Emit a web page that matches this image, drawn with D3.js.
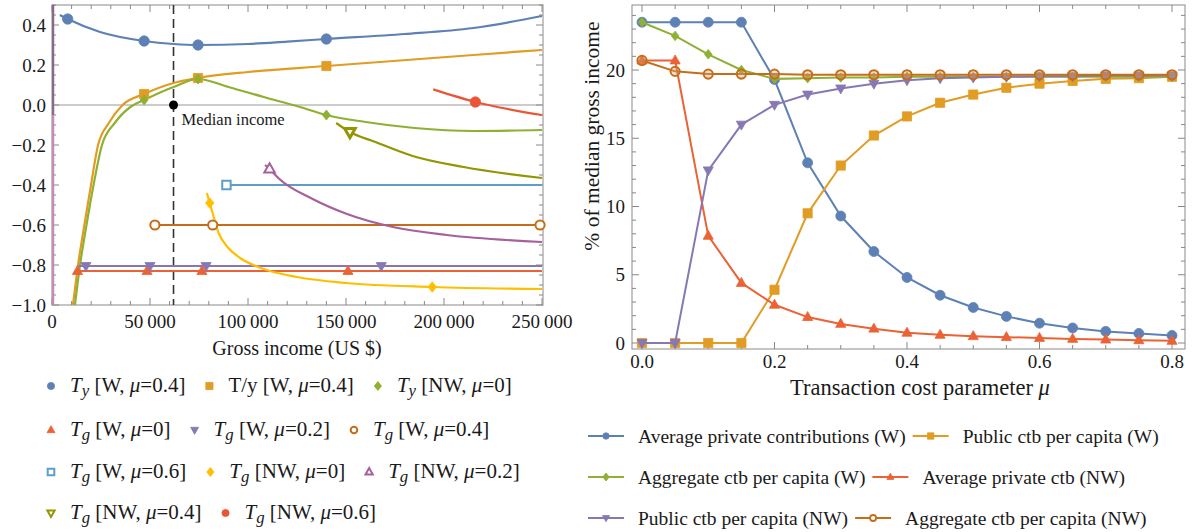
<!DOCTYPE html>
<html><head><meta charset="utf-8">
<script src="https://cdn.jsdelivr.net/npm/d3@7"></script>
<style>
body{margin:0;background:#fff}
text{font-family:"Liberation Serif","Times New Roman",serif;fill:#1a1a1a}
</style>
</head><body>
<svg id="c" width="1195" height="532"></svg>
<script>
// ---------- LEFT CHART DATA ----------
const incomeTicks = [0, 50000, 100000, 150000, 200000, 250000];
const valueTicks = [-1.0, -0.8, -0.6, -0.4, -0.2, 0.0, 0.2, 0.4];
const medianIncome = 62000;

const tyW = [[4000,0.45],[8000,0.43],[24500,0.365],[47000,0.32],[62000,0.305],[74500,0.30],[100000,0.305],[120000,0.317],[140000,0.33],[180000,0.355],[215000,0.385],[250000,0.445]];
const tyWMarks = [[8000,0.43],[47000,0.32],[74500,0.30],[140000,0.33]];

const tyRatioW = [[10700,-1.0],[13300,-0.8],[16500,-0.6],[19900,-0.4],[23500,-0.2],[29000,-0.09],[36000,0.0],[47000,0.055],[62000,0.11],[74500,0.135],[100000,0.165],[140000,0.195],[215000,0.25],[250000,0.275]];
const tyRatioWMarks = [[47000,0.055],[74500,0.135],[140000,0.195]];

const tyNW = [[11700,-1.0],[14300,-0.8],[17600,-0.6],[21200,-0.4],[25500,-0.2],[32000,-0.09],[40000,-0.01],[47000,0.025],[62000,0.09],[74500,0.13],[90000,0.09],[108000,0.04],[126500,-0.01],[140000,-0.05],[160000,-0.085],[185000,-0.115],[215000,-0.13],[250000,-0.125]];
const tyNWMarks = [[47000,0.025],[74500,0.13],[140000,-0.05]];

const tgW0 = [[13000,-0.83],[250000,-0.83]];
const tgW0Marks = [[13000,-0.83],[48500,-0.83],[76500,-0.83],[151000,-0.83]];

const tgW02 = [[13500,-0.805],[250000,-0.805]];
const tgW02Marks = [[17300,-0.805],[50000,-0.805],[78600,-0.805],[168000,-0.805]];

const tgW04 = [[52500,-0.6],[250000,-0.6]];
const tgW04Marks = [[52500,-0.6],[82000,-0.6],[249000,-0.6]];

const tgW06 = [[89000,-0.4],[250000,-0.4]];
const tgW06Marks = [[89000,-0.4]];

const tgNW0 = [[79000,-0.44],[80500,-0.49],[85000,-0.64],[90000,-0.715],[96000,-0.765],[108000,-0.82],[125000,-0.86],[150000,-0.89],[194000,-0.91],[250000,-0.92]];
const tgNW0Marks = [[80500,-0.49],[194000,-0.91]];

const tgNW02 = [[108700,-0.30],[111000,-0.32],[116000,-0.37],[133000,-0.47],[150500,-0.545],[174000,-0.61],[201500,-0.65],[250000,-0.685]];
const tgNW02Marks = [[111000,-0.32]];

const tgNW04 = [[145000,-0.09],[152000,-0.135],[165000,-0.185],[184000,-0.255],[210000,-0.31],[250000,-0.365]];
const tgNW04Marks = [[152000,-0.135]];

const tgNW06 = [[194500,0.078],[216000,0.015],[250000,-0.05]];
const tgNW06Marks = [[216000,0.015]];

const leftLabels = [
  {sym:"Ty", grp:"W", mu:"0.4"}, {sym:"T/y", grp:"W", mu:"0.4"}, {sym:"Ty", grp:"NW", mu:"0"},
  {sym:"Tg", grp:"W", mu:"0"}, {sym:"Tg", grp:"W", mu:"0.2"}, {sym:"Tg", grp:"W", mu:"0.4"},
  {sym:"Tg", grp:"W", mu:"0.6"}, {sym:"Tg", grp:"NW", mu:"0"}, {sym:"Tg", grp:"NW", mu:"0.2"},
  {sym:"Tg", grp:"NW", mu:"0.4"}, {sym:"Tg", grp:"NW", mu:"0.6"}
];

// ---------- RIGHT CHART DATA ----------
const muValues = [0,0.05,0.1,0.15,0.2,0.25,0.3,0.35,0.4,0.45,0.5,0.55,0.6,0.65,0.7,0.75,0.8];
const muTicks = [0.0,0.2,0.4,0.6,0.8];
const pctTicks = [0,5,10,15,20];
const avgPrivW   = [23.5,23.5,23.5,23.5,19.3,13.2,9.3,6.7,4.8,3.5,2.6,1.95,1.45,1.1,0.85,0.7,0.55];
const publicW    = [0,0,0,0,3.9,9.5,13.0,15.2,16.6,17.6,18.2,18.7,19.0,19.2,19.35,19.4,19.5];
const aggW       = [23.5,22.5,21.15,20.0,19.35,19.4,19.45,19.45,19.5,19.5,19.5,19.5,19.5,19.5,19.5,19.5,19.5];
const avgPrivNW  = [20.7,20.7,7.85,4.4,2.8,1.9,1.4,1.05,0.75,0.6,0.5,0.43,0.37,0.3,0.25,0.2,0.16];
const publicNW   = [0,0,12.65,16.0,17.45,18.2,18.65,19.0,19.25,19.4,19.45,19.5,19.55,19.55,19.6,19.6,19.6];
const aggNW      = [20.7,19.9,19.7,19.7,19.7,19.65,19.65,19.65,19.65,19.65,19.65,19.65,19.65,19.65,19.65,19.65,19.65];
const rightLabels = ["Average private contributions (W)","Public ctb per capita (W)","Aggregate ctb per capita (W)","Average private ctb (NW)","Public ctb per capita (NW)","Aggregate ctb per capita (NW)"];

// ---------- SETUP ----------
const svg = d3.select("#c");
svg.append("rect").attr("width",1195).attr("height",532).attr("fill","#fff");

const C = ["#5E81B5","#E19C24","#8FB032","#EB6235","#8778B3","#C56E1A","#5D9EC7","#FFBF00","#A5609D","#929600","#E95536"];

function markerPath(shape, s){
  switch(shape){
    case "square": return `M${-s},${-s}H${s}V${s}H${-s}Z`;
    case "diamond": return `M0,${-s*1.25}L${s},0L0,${s*1.25}L${-s},0Z`;
    case "triUp": return `M0,${-s*1.2}L${s*1.1},${s*0.75}L${-s*1.1},${s*0.75}Z`;
    case "triDown": return `M0,${s*1.2}L${s*1.1},${-s*0.75}L${-s*1.1},${-s*0.75}Z`;
    default: return "";
  }
}
function drawMarker(g, shape, cx, cy, s, color, filled, sw){
  let el;
  if(shape==="circle"){
    el = g.append("circle").attr("cx",cx).attr("cy",cy).attr("r",s);
  } else {
    el = g.append("path").attr("d",markerPath(shape,s)).attr("transform",`translate(${cx},${cy})`);
  }
  if(filled){ el.attr("fill",color).attr("stroke",color).attr("stroke-width",0.8); }
  else { el.attr("fill","#fff").attr("stroke",color).attr("stroke-width",sw||2); }
  return el;
}

// ---------- LEFT CHART ----------
const L = {x0:52, x1:543, y0:5, y1:305};
const xL = d3.scaleLinear().domain([0,250000]).range([52,542]);
const yL = d3.scaleLinear().domain([-1.0,0.5]).range([305,5]);
const gL = svg.append("g");
gL.append("clipPath").attr("id","clipL").append("rect")
  .attr("x",L.x0).attr("y",L.y0).attr("width",L.x1-L.x0).attr("height",L.y1-L.y0);

const tickG = gL.append("g").attr("stroke","#888").attr("stroke-width",1);
d3.range(0,250001,10000).forEach(v=>{
  const major = v%50000===0, len = major?7:4, x = xL(v);
  tickG.append("line").attr("x1",x).attr("x2",x).attr("y1",L.y1).attr("y2",L.y1-len);
  tickG.append("line").attr("x1",x).attr("x2",x).attr("y1",L.y0).attr("y2",L.y0+len);
});
d3.range(-1.0,0.5001,0.05).forEach(v=>{
  const major = Math.abs(Math.round(v*100)%20)===0, len = major?7:4, y = yL(v);
  tickG.append("line").attr("x1",L.x1).attr("x2",L.x1-len).attr("y1",y).attr("y2",y);
  tickG.append("line").attr("x1",L.x0).attr("x2",L.x0+len).attr("y1",y).attr("y2",y);
});
gL.append("rect").attr("x",L.x0).attr("y",L.y0).attr("width",L.x1-L.x0).attr("height",L.y1-L.y0)
  .attr("fill","none").attr("stroke","#8a8a8a").attr("stroke-width",1);

gL.append("line").attr("x1",xL(0)).attr("x2",xL(250000)).attr("y1",yL(0)).attr("y2",yL(0))
  .attr("stroke","#999").attr("stroke-width",1);

const edge = gL.append("g").attr("clip-path","url(#clipL)");
edge.append("line").attr("x1",L.x0+1).attr("x2",L.x0+1).attr("y1",L.y0).attr("y2",yL(-0.05)).attr("stroke","#8a6a88").attr("stroke-width",2.5);
edge.append("line").attr("x1",L.x0+1).attr("x2",L.x0+1).attr("y1",yL(-0.05)).attr("y2",L.y1).attr("stroke","#c58bb8").attr("stroke-width",2.5);

gL.selectAll(".xl").data(incomeTicks).join("text")
  .attr("x",d=>xL(d)).attr("y",328).attr("text-anchor","middle").attr("font-size",19)
  .text(d=>d===0?"0":d3.format(",")(d).replace(/,/g,"\u2009"));
gL.selectAll(".yl").data(valueTicks).join("text")
  .attr("x",46).attr("y",d=>yL(d)).attr("dy","0.35em").attr("text-anchor","end").attr("font-size",19)
  .text(d=>d3.format(".1f")(d).replace("-","\u2212"));
gL.append("text").attr("x",297).attr("y",355).attr("text-anchor","middle").attr("font-size",20)
  .text("Gross income (US $)");

gL.append("line").attr("x1",xL(medianIncome)).attr("x2",xL(medianIncome)).attr("y1",L.y0).attr("y2",L.y1)
  .attr("stroke","#333").attr("stroke-width",1.6).attr("stroke-dasharray","9,5");

const leftSeries = [
  {data:tyW, marks:tyWMarks, shape:"circle", filled:true, s:5.2},
  {data:tyRatioW, marks:tyRatioWMarks, shape:"square", filled:true, s:4.6},
  {data:tyNW, marks:tyNWMarks, shape:"diamond", filled:true, s:4},
  {data:tgW0, marks:tgW0Marks, shape:"triUp", filled:true, s:4.6},
  {data:tgW02, marks:tgW02Marks, shape:"triDown", filled:true, s:4.6},
  {data:tgW04, marks:tgW04Marks, shape:"circle", filled:false, s:4.6},
  {data:tgW06, marks:tgW06Marks, shape:"square", filled:false, s:4.2},
  {data:tgNW0, marks:tgNW0Marks, shape:"diamond", filled:true, s:4.2},
  {data:tgNW02, marks:tgNW02Marks, shape:"triUp", filled:false, s:4.8},
  {data:tgNW04, marks:tgNW04Marks, shape:"triDown", filled:false, s:4.8},
  {data:tgNW06, marks:tgNW06Marks, shape:"circle", filled:true, s:5.2}
];
const lineL = d3.line().x(d=>xL(d[0])).y(d=>yL(d[1])).curve(d3.curveMonotoneX);
const plotL = gL.append("g").attr("clip-path","url(#clipL)");
leftSeries.forEach((s,i)=>{
  plotL.append("path").attr("d",lineL(s.data)).attr("fill","none")
    .attr("stroke",C[i]).attr("stroke-width",2.2);
});
const markL = gL.append("g");
leftSeries.forEach((s,i)=>{
  s.marks.forEach(m=>drawMarker(markL, s.shape, xL(m[0]), yL(m[1]), s.s, C[i], s.filled, i===9?3:2));
});
gL.append("circle").attr("cx",xL(medianIncome)).attr("cy",yL(0)).attr("r",4.5).attr("fill","#000");
gL.append("text").attr("x",xL(medianIncome)+8).attr("y",yL(0)+20).attr("font-size",16.5).text("Median income");

function legendLabel(t, lab, fs){
  if(lab.sym==="T/y"){
    t.append("tspan").text("T/y [" + lab.grp + ", ");
  } else {
    t.append("tspan").attr("font-style","italic").text("T");
    t.append("tspan").attr("font-style","italic").attr("font-size",fs*0.8).attr("dy",4).text(lab.sym[1]);
    t.append("tspan").attr("dy",-4).text(" [" + lab.grp + ", ");
  }
  t.append("tspan").attr("font-style","italic").text("\u03bc");
  t.append("tspan").text("=" + lab.mu + "]");
}
const leftRows = [[0,1,2],[3,4,5],[6,7,8],[9,10]];
const leftRowY = [386,430,472,513];
const LFS = 21;
const legL = svg.append("g");
leftRows.forEach((row,ri)=>{
  let cx = 51;
  row.forEach(idx=>{
    const s = leftSeries[idx];
    drawMarker(legL, s.shape, cx, leftRowY[ri], s.filled?3.6:3.3, C[idx], s.filled, 2);
    const t = legL.append("text").attr("x",cx+19).attr("y",leftRowY[ri]+6).attr("font-size",LFS);
    legendLabel(t, leftLabels[idx], LFS);
    const w = t.node().getComputedTextLength();
    cx = cx + 19 + w + 24;
  });
});

// ---------- RIGHT CHART ----------
const R = {x0:632, x1:1185, y0:5, y1:349};
const xR = d3.scaleLinear().domain([0,0.8]).range([642,1172]);
const yR = d3.scaleLinear().domain([0,20]).range([343,70]);
const gR = svg.append("g");
const tickR = gR.append("g").attr("stroke","#888").attr("stroke-width",1);
d3.range(0,17).map(i=>i*0.05).forEach(v=>{
  const major = Math.round(v*100)%20===0, len = major?7:4, x = xR(v);
  tickR.append("line").attr("x1",x).attr("x2",x).attr("y1",R.y1).attr("y2",R.y1-len);
  tickR.append("line").attr("x1",x).attr("x2",x).attr("y1",R.y0).attr("y2",R.y0+len);
});
d3.range(0,25).forEach(v=>{
  const major = v%5===0, len = major?7:4, y = yR(v);
  tickR.append("line").attr("x1",R.x1).attr("x2",R.x1-len).attr("y1",y).attr("y2",y);
  tickR.append("line").attr("x1",R.x0).attr("x2",R.x0+len).attr("y1",y).attr("y2",y);
});
gR.append("rect").attr("x",R.x0).attr("y",R.y0).attr("width",R.x1-R.x0).attr("height",R.y1-R.y0)
  .attr("fill","none").attr("stroke","#8a8a8a").attr("stroke-width",1);
gR.selectAll(".xl").data(muTicks).join("text")
  .attr("x",d=>xR(d)).attr("y",368).attr("text-anchor","middle").attr("font-size",19)
  .text(d=>d3.format(".1f")(d));
gR.selectAll(".yl").data(pctTicks).join("text")
  .attr("x",625).attr("y",d=>yR(d)).attr("dy","0.35em").attr("text-anchor","end").attr("font-size",19)
  .text(d=>d);
const xlab = gR.append("text").attr("x",920).attr("y",395).attr("text-anchor","middle").attr("font-size",22.5);
xlab.append("tspan").text("Transaction cost parameter ");
xlab.append("tspan").attr("font-style","italic").text("\u03bc");
gR.append("text").attr("transform","translate(599,136) rotate(-90)").attr("text-anchor","middle")
  .attr("font-size",21.5).text("% of median gross income");

const rightSeries = [
  {vals:avgPrivW, shape:"circle", filled:true, s:5},
  {vals:publicW, shape:"square", filled:true, s:4.6},
  {vals:aggW, shape:"diamond", filled:true, s:3.8},
  {vals:avgPrivNW, shape:"triUp", filled:true, s:4.6},
  {vals:publicNW, shape:"triDown", filled:true, s:4.6},
  {vals:aggNW, shape:"circle", filled:false, s:4.6}
];
const lineR = d3.line().x((d,i)=>xR(muValues[i])).y(d=>yR(d));
rightSeries.forEach((s,i)=>{
  const g = gR.append("g");
  g.append("path").attr("d",lineR(s.vals)).attr("fill","none").attr("stroke",C[i]).attr("stroke-width",2);
  s.vals.forEach((v,j)=>{
    const m = drawMarker(g, s.shape, xR(muValues[j]), yR(v), s.s, C[i], s.filled, 2);
    if(!s.filled) m.attr("fill","#d6a37a").attr("fill-opacity",0.35);
  });
});

const rightRows = [[0,1],[2,3],[4,5]];
const rightRowY = [436,477,518];
const RFS = 19.5;
const legR = svg.append("g");
rightRows.forEach((row,ri)=>{
  let x = 588;
  row.forEach(idx=>{
    const s = rightSeries[idx], y = rightRowY[ri];
    legR.append("line").attr("x1",x).attr("x2",x+36).attr("y1",y).attr("y2",y).attr("stroke",C[idx]).attr("stroke-width",2.2);
    drawMarker(legR, s.shape, x+18, y, s.filled?3.2:3, C[idx], s.filled, 1.8);
    const t = legR.append("text").attr("x",x+50).attr("y",y+7).attr("font-size",RFS).text(rightLabels[idx]);
    const w = t.node().getComputedTextLength();
    x = x + 50 + w + 7;
  });
});
</script>
</body></html>
